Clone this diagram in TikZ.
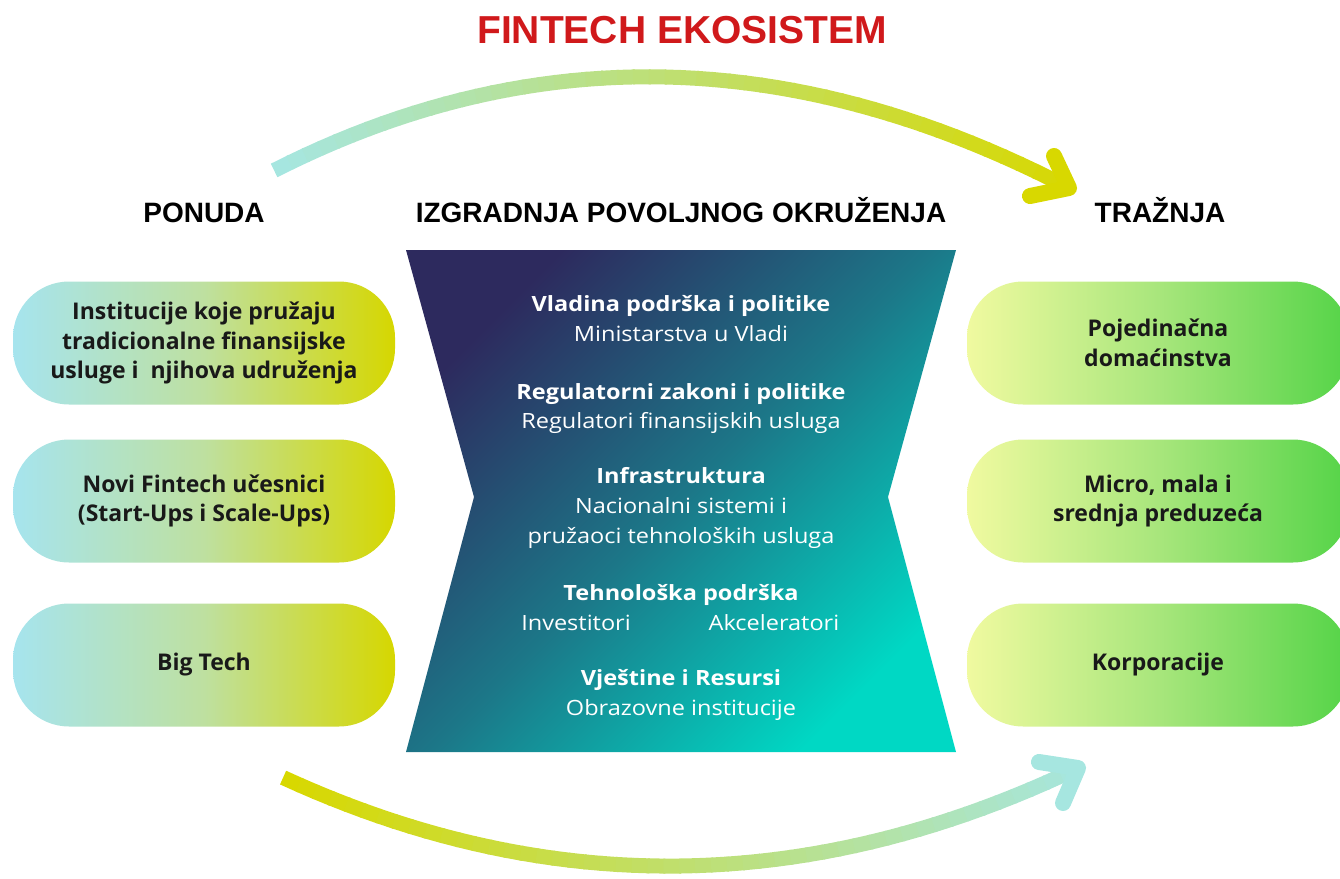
\documentclass[tikz,border=0pt]{standalone}
\usepackage{fontspec}
\setmainfont{Open Sans}
\newfontfamily\headfont{Liberation Sans}
\newfontfamily\midfont[FakeStretch=1.12]{Open Sans}
\usepackage{tikz}

\definecolor{titlered}{HTML}{D0191B}
\definecolor{arccyan}{HTML}{A6E6E0}
\definecolor{arcyel}{HTML}{D8D800}
\definecolor{supcyan}{HTML}{A6E4EE}
\definecolor{supmid}{HTML}{BEE0A0}
\definecolor{supyel}{HTML}{D6D700}
\definecolor{demyel}{HTML}{F0FAA0}
\definecolor{demmid}{HTML}{A8E67C}
\definecolor{demgrn}{HTML}{55D448}
\definecolor{envnavy}{HTML}{2D2A5E}
\definecolor{envmid}{HTML}{1C7788}
\definecolor{envturq}{HTML}{00D8C4}

\begin{document}
\begin{tikzpicture}[x=1pt, y=-1pt,
  pill/.style={rounded corners=56pt, minimum width=382pt, minimum height=123pt,
    inner sep=0pt, align=center, text=black!90,
    font=\fontsize{23}{29.5}\selectfont\bfseries},
  supply/.style={pill, left color=supcyan, right color=supyel, middle color=supmid},
  demand/.style={pill, left color=demyel, right color=demgrn, middle color=demmid},
  heading/.style={anchor=base, font=\headfont\bfseries\fontsize{28}{30}\selectfont},
  midbold/.style={anchor=base, text=white, font=\midfont\bfseries\fontsize{21}{24}\selectfont},
  midreg/.style={anchor=base, text=white, font=\midfont\fontsize{21}{24}\selectfont},
  arcline/.style={line width=15pt, shorten <=-1pt, shorten >=-1pt},
  headline/.style={line width=16pt, line cap=round, line join=round}]
\useasboundingbox (0,0) rectangle (1340,878);
\clip (0,0) rectangle (1340,878);

% title and column headings
\path (682,43) node[anchor=base, text=titlered, font=\headfont\bfseries\fontsize{39}{40}\selectfont] (title) {FINTECH EKOSISTEM}
      (204,222) node[heading] (ponuda) {PONUDA}
      (681,222) node[heading] (izgradnja) {IZGRADNJA POVOLJNOG OKRUŽENJA}
      (1160,222) node[heading] (traznja) {TRAŽNJA};

% enabling environment
\shade[top color=envnavy, bottom color=envturq, middle color=envmid, shading angle=45]
  (406,250) -- (956,250) -- (888,497) -- (956,752) -- (406,752) -- (474,497) -- cycle;

\path (681,311) node[midbold] (vlada) {Vladina podrška i politike}
      (681,341) node[midreg] (ministarstva) {Ministarstva u Vladi}
      (681,399) node[midbold] (regul) {Regulatorni zakoni i politike}
      (681,428) node[midreg] (regulatori) {Regulatori finansijskih usluga}
      (681,483) node[midbold] (infra) {Infrastruktura}
      (681,513) node[midreg] (nacionalni) {Nacionalni sistemi i}
      (681,543) node[midreg] (pruzaoci) {pružaoci tehnoloških usluga}
      (681,600) node[midbold] (tehno) {Tehnološka podrška}
      (576,630) node[midreg] (invest) {Investitori}
      (774,630) node[midreg] (akcel) {Akceleratori}
      (681,685) node[midbold] (vjestine) {Vještine i Resursi}
      (681,715) node[midreg] (obrazovne) {Obrazovne institucije};

% supply side
\path (204,343) node[supply] (inst) {Institucije koje pružaju\\tradicionalne finansijske\\usluge i\ \ njihova udruženja}
      (204,501) node[supply] (novi) {Novi Fintech učesnici\\(Start-Ups i Scale-Ups)}
      (204,665) node[supply] (bigtech) {Big Tech};

% demand side
\path (1158,343) node[demand] (pojed) {Pojedinačna\\domaćinstva}
      (1158,501) node[demand] (mikro) {Micro, mala i\\srednja preduzeća}
      (1158,665) node[demand] (korp) {Korporacije};

% upper arc, supply to demand
\coordinate (ts) at (275,170);
\coordinate (te) at (1069,188);
\coordinate (tha) at (1054,156);
\coordinate (thb) at (1030,196);
\path (ts) .. controls (532,40) and (795,46) .. (te)
  \foreach \k in {0,...,50} {coordinate[pos=\k/50] (tp\k)};
\foreach \k [evaluate=\k as \n using int(\k+1), evaluate=\k as \c using int(2*\k)] in {0,...,49}
  \draw[arcline, arcyel!\c!arccyan] (tp\k) -- (tp\n);
\draw[headline, arcyel] (tha) -- (te) -- (thb);

% lower arc
\coordinate (bs) at (284,778);
\coordinate (be) at (1078,768);
\coordinate (bha) at (1039,762);
\coordinate (bhb) at (1063,803);
\path (bs) .. controls (548,899) and (812,895) .. (be)
  \foreach \k in {0,...,50} {coordinate[pos=\k/50] (bp\k)};
\foreach \k [evaluate=\k as \n using int(\k+1), evaluate=\k as \c using int(2*\k)] in {0,...,49}
  \draw[arcline, arccyan!\c!arcyel] (bp\k) -- (bp\n);
\draw[headline, arccyan] (bha) -- (be) -- (bhb);
\end{tikzpicture}
\end{document}
